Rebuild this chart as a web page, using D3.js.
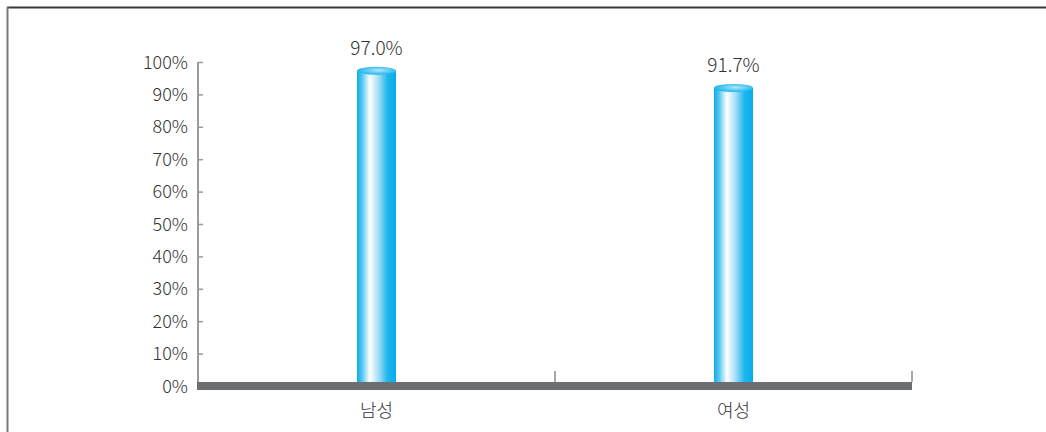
<!DOCTYPE html>
<html>
<head>
<meta charset="utf-8">
<script src="https://cdn.jsdelivr.net/npm/d3@7"></script>
<style>
  html, body { margin: 0; padding: 0; background: #fff; }
  svg { display: block; }
  text { font-family: "Noto Sans CJK KR", "Noto Sans", sans-serif; fill: #333; font-weight: 300; }
</style>
</head>
<body>
<svg id="chart" width="1046" height="432"></svg>
<script>
// Share by gender (percent)
const categories = ["남성", "여성"];
const values = [97.0, 91.7];
const valueLabels = ["97.0%", "91.7%"];
const yTicks = [0, 10, 20, 30, 40, 50, 60, 70, 80, 90, 100];

const svg = d3.select("#chart");
const W = 1046, H = 432;

// Outer frame (top and left edges)
svg.append("line").attr("x1", 7).attr("x2", 1046).attr("y1", 7.5).attr("y2", 7.5)
  .attr("stroke", "#3a3a3a").attr("stroke-width", 2);
svg.append("line").attr("x1", 7.5).attr("x2", 7.5).attr("y1", 7).attr("y2", H)
  .attr("stroke", "#7a7a7a").attr("stroke-width", 2);

const plot = { left: 198, right: 912, top: 62, zero: 386, floorTop: 382, floorBottom: 390 };

const x = d3.scaleBand().domain(categories).range([plot.left, plot.right]).paddingInner(0).paddingOuter(0);
const y = d3.scaleLinear().domain([0, 100]).range([plot.zero, plot.top]);

// Gradients for the cylinders
const defs = svg.append("defs");
const body = defs.append("linearGradient").attr("id", "cylBody").attr("x1", "0%").attr("x2", "100%").attr("y1", "0%").attr("y2", "0%");
[[0, "#0caeea"], [0.12, "#4cc4f0"], [0.33, "#ffffff"], [0.55, "#a5def6"], [0.78, "#1fb6ec"], [1, "#05aceb"]]
  .forEach(([o, c]) => body.append("stop").attr("offset", o).attr("stop-color", c));
const cap = defs.append("radialGradient").attr("id", "cylCap").attr("cx", "55%").attr("cy", "45%").attr("r", "60%");
[[0, "#b3e6f9"], [0.5, "#5ccbf2"], [1, "#13b2ec"]]
  .forEach(([o, c]) => cap.append("stop").attr("offset", o).attr("stop-color", c));

// Y axis with ticks pointing into the plot
const yAxis = d3.axisLeft(y).tickValues(yTicks).tickFormat(d => d + "%")
  .tickSizeInner(-5).tickSizeOuter(0).tickPadding(10);
const gy = svg.append("g").attr("transform", `translate(${plot.left},0)`).call(yAxis);
gy.select(".domain").attr("stroke", "#9a9a9a").attr("stroke-width", 2)
  .attr("d", `M0,${y(100)}V${plot.floorTop}`);
gy.selectAll(".tick line").attr("stroke", "#9a9a9a").attr("stroke-width", 1.5);
gy.selectAll(".tick text").style("font-size", "18px").attr("fill", "#333").attr("dy", "0.34em");

// Floor bar
svg.append("rect").attr("x", plot.left - 1).attr("y", plot.floorTop)
  .attr("width", plot.right - plot.left + 1).attr("height", plot.floorBottom - plot.floorTop)
  .attr("fill", "#6d6e71");

// Category separators along the floor
const seps = [x(categories[1]), plot.right];
svg.selectAll("line.sep").data(seps).enter().append("line").attr("class", "sep")
  .attr("x1", d => d).attr("x2", d => d).attr("y1", 371).attr("y2", plot.floorTop)
  .attr("stroke", "#8a8a8a").attr("stroke-width", 1.5);

// Category labels
svg.selectAll("text.cat").data(categories).enter().append("text").attr("class", "cat")
  .attr("x", d => x(d) + x.bandwidth() / 2).attr("y", 417)
  .attr("text-anchor", "middle").style("font-size", "18px").text(d => d);

// Cylinders
const bw = 39;
const ry = 4;
const bars = svg.selectAll("g.bar").data(categories.map((c, i) => ({ c, v: values[i], label: valueLabels[i] })))
  .enter().append("g").attr("class", "bar");
bars.append("rect")
  .attr("x", d => x(d.c) + x.bandwidth() / 2 - bw / 2)
  .attr("y", d => y(d.v) - 1)
  .attr("width", bw)
  .attr("height", d => plot.floorTop - y(d.v) + 1)
  .attr("fill", "url(#cylBody)");
bars.append("ellipse")
  .attr("cx", d => x(d.c) + x.bandwidth() / 2)
  .attr("cy", d => y(d.v) - 1)
  .attr("rx", bw / 2).attr("ry", ry)
  .attr("fill", "url(#cylCap)");
bars.append("text")
  .attr("x", d => x(d.c) + x.bandwidth() / 2)
  .attr("y", d => y(d.v) - 17)
  .attr("text-anchor", "middle").style("font-size", "19px")
  .text(d => d.label);
</script>
</body>
</html>
